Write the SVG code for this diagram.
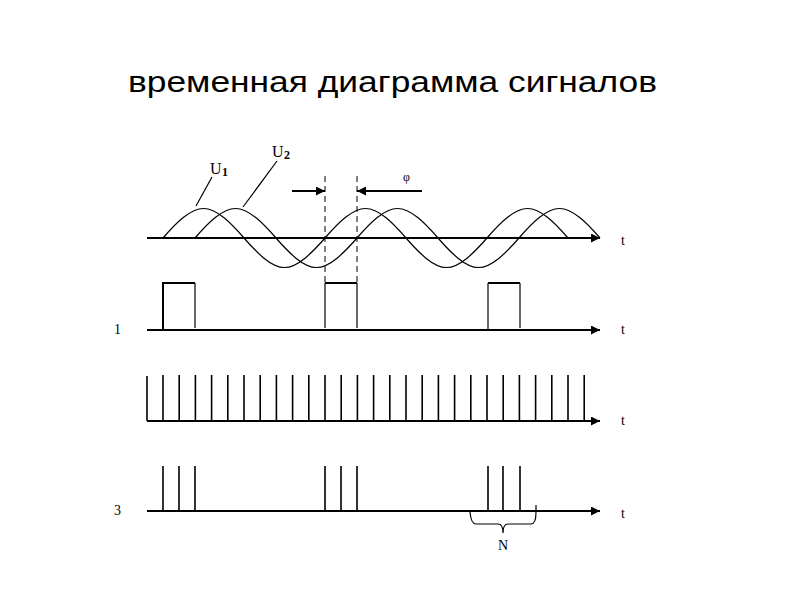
<svg xmlns="http://www.w3.org/2000/svg" width="800" height="600" viewBox="0 0 800 600">
<style>
.title{font-family:"Liberation Sans",Arial,sans-serif;font-size:29px;fill:#000}
.lbl{font-family:"Liberation Serif","Times New Roman",serif;font-size:14px;fill:#000}
.big{font-family:"Liberation Serif","Times New Roman",serif;font-size:16px;fill:#000}
.sub{font-family:"Liberation Serif","Times New Roman",serif;font-size:12px;font-weight:bold;fill:#000}
.axis{stroke:#000;stroke-width:1.8;fill:none}
.wave{stroke:#000;stroke-width:1.2;fill:none}
.thin{stroke:#000;stroke-width:1.2;fill:none}
.thick{stroke:#000;stroke-width:2;fill:none}
.tick{stroke:#000;stroke-width:1.6}
.dash{stroke:#000;stroke-width:1;stroke-dasharray:6,4;fill:none}
</style>
<defs>
<marker id="ah" viewBox="0 0 10 10" refX="10" refY="5" markerWidth="10" markerHeight="9" markerUnits="userSpaceOnUse" orient="auto">
<path d="M0,0 L10,5 L0,10 Z" fill="#000"/>
</marker>
</defs>
<rect width="800" height="600" fill="#fff"/>
<text class="title" x="128" y="92" textLength="529" lengthAdjust="spacingAndGlyphs">временная диаграмма сигналов</text>

<g id="axes">
<line class="axis" x1="147" y1="238" x2="600" y2="238" marker-end="url(#ah)"/>
<line class="axis" x1="147" y1="330" x2="600" y2="330" marker-end="url(#ah)"/>
<line class="axis" x1="147" y1="421" x2="600" y2="421" marker-end="url(#ah)"/>
<line class="axis" x1="147" y1="511" x2="600" y2="511" marker-end="url(#ah)"/>
<text class="lbl" x="621" y="245">t</text>
<text class="lbl" x="621" y="334">t</text>
<text class="lbl" x="621" y="425">t</text>
<text class="lbl" x="621" y="518">t</text>
<text class="lbl" x="114" y="334">1</text>
<text class="lbl" x="114" y="515">3</text>
</g>

<g id="waves">
<path class="wave" d="M163,238 C176.2,222.9 190.3,208.5 203.5,208.5 S230.8,222.9 244,238 S271.3,267.5 284.5,267.5 S311.8,253.1 325,238 S352.3,208.5 365.5,208.5 S392.8,222.9 406,238 S433.3,267.5 446.5,267.5 S473.8,253.1 487,238 S514.3,208.5 527.5,208.5 S554.8,222.9 568,238"/>
<path class="wave" d="M195,238 C208.2,222.9 222.3,208.5 235.5,208.5 S262.8,222.9 276,238 S303.3,267.5 316.5,267.5 S343.8,253.1 357,238 S384.3,208.5 397.5,208.5 S424.8,222.9 438,238 S465.3,267.5 478.5,267.5 S505.8,253.1 519,238 S546.3,208.5 559.5,208.5 S586.8,222.9 600,238"/>
</g>

<g id="labels">
<line class="thin" x1="212" y1="177" x2="196" y2="206"/>
<text class="big" x="210" y="174">U</text>
<text class="sub" x="222" y="176">1</text>
<line class="thin" x1="277" y1="161" x2="243" y2="207"/>
<text class="big" x="272" y="157">U</text>
<text class="sub" x="284" y="159">2</text>
</g>

<g id="phase">
<line class="dash" x1="325" y1="176" x2="325" y2="283"/>
<line class="dash" x1="357" y1="176" x2="357" y2="283"/>
<line class="thick" x1="292" y1="191" x2="325" y2="191" marker-end="url(#ah)"/>
<line class="thick" x1="422" y1="191" x2="357" y2="191" marker-end="url(#ah)"/>
<text class="lbl" x="403" y="181" style="font-size:12px">φ</text>
</g>

<g id="pulses">
<path class="thick" d="M163,330 V283 H195"/>
<path class="thin" d="M195,283 V328"/>
<path class="thin" d="M325,328 V283"/>
<path class="thick" d="M325,283 H357"/>
<path class="thin" d="M357,283 V328"/>
<path class="thin" d="M488,330 V283"/>
<path class="thick" d="M488,283 H520"/>
<path class="thin" d="M520,283 V328"/>
</g>

<g id="clock">
<path class="tick" d="M147,421V376 M163,421V375 M179.2,421V375 M195.4,421V375 M211.6,421V375 M227.8,421V375 M244,421V375 M260.2,421V375 M276.4,421V375 M292.6,421V375 M308.8,421V375 M325,421V375 M341.2,421V375 M357.4,421V375 M373.6,421V375 M389.8,421V375 M406,421V375 M422.2,421V375 M438.4,421V375 M454.6,421V375 M470.8,421V375 M487,421V375 M503.2,421V375 M519.4,421V375 M535.6,421V375 M551.8,421V375 M568,421V375 M584.2,421V375"/>
</g>

<g id="bursts">
<path class="tick" d="M163,511V466 M179,511V466 M195,511V466 M325,511V466 M341,511V466 M357,511V466 M488,511V466 M503,511V466 M520,511V466"/>
</g>

<g id="brace">
<path class="thin" d="M470,512 Q471,524 476,524 H498 Q503,524 503,533 Q503,524 508,524 H531 Q536,524 536,512 V505"/>
<text class="lbl" x="503" y="550" text-anchor="middle">N</text>
</g>
</svg>
